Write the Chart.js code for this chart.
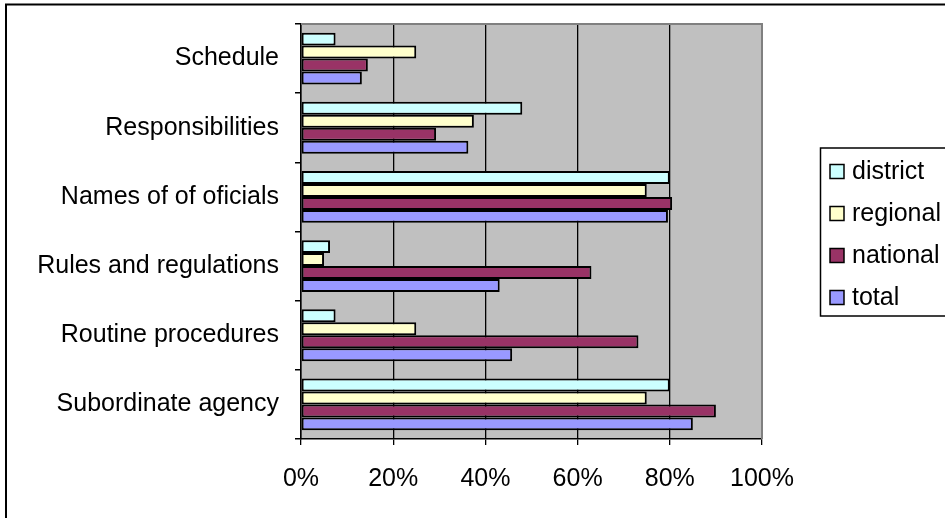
<!DOCTYPE html>
<html>
<head>
<meta charset="utf-8">
<script src="https://cdn.jsdelivr.net/npm/chart.js@4"></script>
<style>
  html, body { margin: 0; padding: 0; background: #fff; }
  #wrap { width: 945px; height: 518px; position: relative; }
</style>
</head>
<body>
<div id="wrap"><canvas id="chart"></canvas></div>
<script>
const categories = ['Schedule', 'Responsibilities', 'Names of of oficials', 'Rules and regulations', 'Routine procedures', 'Subordinate agency'];
const seriesNames = ['district', 'regional', 'national', 'total'];
const district = [7.5, 48, 80, 6.3, 7.5, 80];
const regional = [25, 37.5, 75, 5, 25, 75];
const national = [14.5, 29.3, 80.5, 63, 73.2, 90];
const total = [13.2, 36.3, 79.6, 43.1, 45.8, 85];
const xTicks = [0, 20, 40, 60, 80, 100];

const colors = ['#CCFFFF', '#FFFFCC', '#993366', '#9999FF'];
const FONT = 'Liberation Sans';

// plot box, frame, legend
const frame = {
  id: 'frame',
  beforeDraw(chart) {
    const { ctx, chartArea: a } = chart;
    ctx.save();
    ctx.fillStyle = '#C0C0C0';
    ctx.fillRect(a.left, a.top, a.right - a.left, a.bottom - a.top);
    ctx.restore();
  },
  afterDraw(chart) {
    const { ctx, chartArea: a } = chart;
    ctx.save();
    // top + right border of the plot
    ctx.strokeStyle = '#808080';
    ctx.lineWidth = 2;
    ctx.beginPath();
    ctx.moveTo(a.left, a.top);
    ctx.lineTo(a.right, a.top);
    ctx.lineTo(a.right, a.bottom);
    ctx.stroke();

    // outer chart border (only top/left visible)
    ctx.strokeStyle = '#000';
    ctx.lineWidth = 2;
    ctx.strokeRect(6, 4.5, 1000, 1000);

    // legend
    ctx.lineWidth = 1.5;
    ctx.strokeRect(820.5, 148, 200, 168);
    ctx.font = '25px "' + FONT + '"';
    ctx.textBaseline = 'middle';
    ctx.textAlign = 'left';
    chart.data.datasets.forEach((ds, i) => {
      const y = 171.5 + i * 42;
      ctx.fillStyle = ds.backgroundColor;
      ctx.fillRect(830, y - 7, 14, 14);
      ctx.strokeStyle = '#000';
      ctx.lineWidth = 1.5;
      ctx.strokeRect(830, y - 7, 14, 14);
      ctx.fillStyle = '#000';
      ctx.fillText(ds.label, 852, y + 1);
    });
    ctx.restore();
  }
};

const datasets = [district, regional, national, total].map((data, i) => ({
  label: seriesNames[i],
  data,
  backgroundColor: colors[i],
  borderColor: '#000',
  borderWidth: 2,
  borderSkipped: false,
  barPercentage: 1,
  categoryPercentage: 0.75,
}));

new Chart(document.getElementById('chart'), {
  type: 'bar',
  data: { labels: categories, datasets },
  options: {
    indexAxis: 'y',
    responsive: true,
    maintainAspectRatio: false,
    animation: false,
    layout: { padding: { top: 24, right: 183, left: 0, bottom: 0 } },
    plugins: {
      legend: { display: false },
      tooltip: { enabled: false },
    },
    scales: {
      x: {
        min: 0,
        max: 100,
        afterBuildTicks: scale => {
          scale.ticks = xTicks.map(v => ({ value: v }));
        },
        afterFit: scale => {
          scale.height = 79;
          scale.paddingLeft = 0;
          scale.paddingRight = 0;
        },
        grid: {
          color: ctx => (ctx.tick && ctx.tick.value === 100 ? '#808080' : '#000'),
          tickColor: '#000',
          lineWidth: 1.3,
          tickLength: 6,
        },
        border: { color: '#000', width: 1.5 },
        ticks: {
          color: '#000',
          padding: 19,
          maxRotation: 0,
          font: { family: FONT, size: 25 },
          callback: v => v + '%',
        },
      },
      y: {
        afterFit: scale => {
          scale.width = 301;
          scale.paddingTop = 0;
          scale.paddingBottom = 0;
        },
        grid: {
          drawOnChartArea: false,
          color: '#000',
          lineWidth: 1.5,
          tickLength: 6,
        },
        border: { color: '#000', width: 1.5 },
        ticks: {
          color: '#000',
          padding: 16,
          font: { family: FONT, size: 25 },
        },
      },
    },
  },
  plugins: [frame],
});
</script>
</body>
</html>
